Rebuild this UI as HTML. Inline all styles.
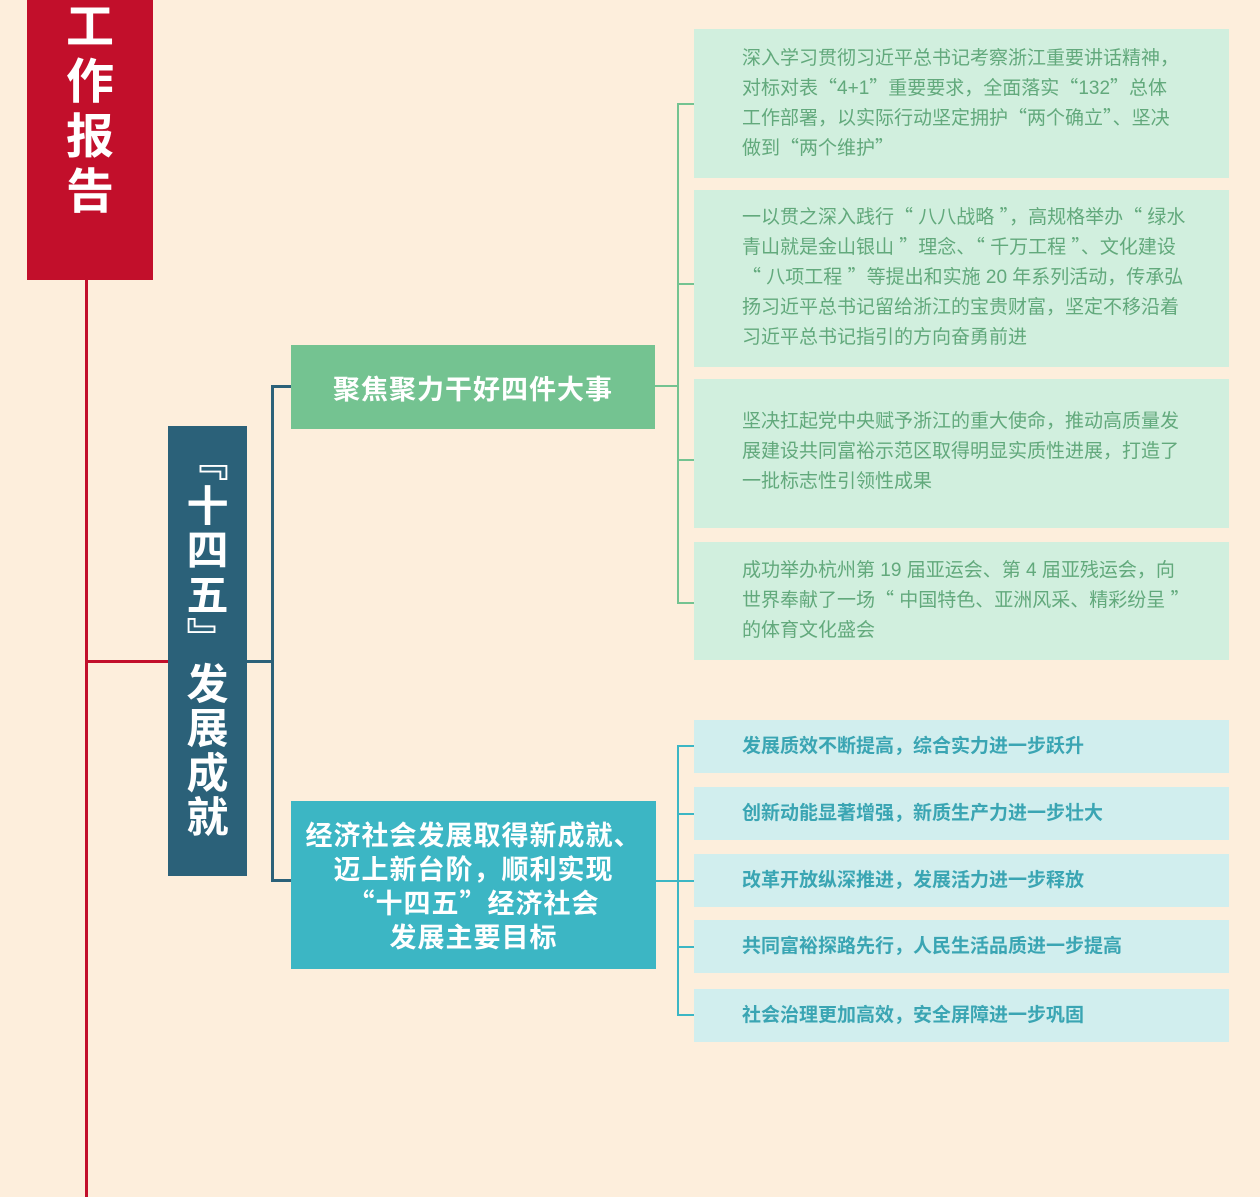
<!DOCTYPE html>
<html><head><meta charset="utf-8"><style>
*{margin:0;padding:0;box-sizing:border-box}
body{width:1260px;height:1197px;background:#fdeedc;position:relative;overflow:hidden;font-family:"Liberation Sans","Noto Sans CJK SC",sans-serif}
.a{position:absolute}
.q{font-family:"Noto Sans CJK SC",sans-serif;line-height:1}
.red{left:27px;top:0;width:126px;height:280px;background:#c20f2b;color:#fff;font-weight:bold;font-size:48px;line-height:55px;text-align:center;padding-top:0}
.blue{left:168px;top:426px;width:79px;height:450px;background:#2b6179;color:#fff;font-weight:bold;font-size:42px;font-family:"Noto Sans CJK SC",sans-serif;padding-top:11px}
.blue div{height:44.5px;line-height:44.5px;text-align:center}
.g{left:291px;top:345px;width:364px;height:84px;background:#74c391;color:#fff;font-weight:bold;font-size:27px;letter-spacing:1px;display:flex;align-items:center;justify-content:center}
.t{left:291px;top:801px;width:365px;height:168px;background:#3cb6c4;color:#fff;font-weight:bold;font-size:27px;letter-spacing:1px;line-height:34px;text-align:center;padding-top:18px}
.gb{left:694px;width:535px;background:#d1efde;color:#62a97c;font-size:19px;line-height:30px;padding-left:48px;white-space:nowrap}
.tb{left:694px;width:535px;height:53px;background:#d1eeee;color:#3aa5b3;font-weight:bold;font-size:19px;line-height:53px;padding-left:48px}
.l{position:absolute}
</style></head><body>
<div class="a red">工<br>作<br>报<br>告</div>
<div class="l" style="left:85px;top:280px;width:3px;height:917px;background:#c20f2b"></div>
<div class="l" style="left:85px;top:660px;width:83px;height:3px;background:#c20f2b"></div>
<div class="a blue"><div>﹃</div><div>十</div><div>四</div><div>五</div><div>﹄</div><div>发</div><div>展</div><div>成</div><div>就</div></div>
<div class="l" style="left:247px;top:660px;width:26px;height:3px;background:#2b6179"></div>
<div class="l" style="left:271px;top:385px;width:3px;height:497px;background:#2b6179"></div>
<div class="l" style="left:271px;top:385px;width:20px;height:3px;background:#2b6179"></div>
<div class="l" style="left:271px;top:879px;width:20px;height:3px;background:#2b6179"></div>
<div class="a g">聚焦聚力干好四件大事</div>
<div class="a t">经济社会发展取得新成就、<br>迈上新台阶，顺利实现<br><span class="q">“</span>十四五<span class="q">”</span>经济社会<br>发展主要目标</div>
<div class="l" style="left:655px;top:385px;width:24px;height:2px;background:#74c391"></div>
<div class="l" style="left:677px;top:104px;width:2px;height:500px;background:#74c391"></div>
<div class="l" style="left:677px;top:103px;width:17px;height:2px;background:#74c391"></div>
<div class="l" style="left:677px;top:283px;width:17px;height:2px;background:#74c391"></div>
<div class="l" style="left:677px;top:459px;width:17px;height:2px;background:#74c391"></div>
<div class="l" style="left:677px;top:602px;width:17px;height:2px;background:#74c391"></div>
<div class="a gb" style="top:29px;height:149px;padding-top:15px">深入学习贯彻习近平总书记考察浙江重要讲话精神，<br>对标对表<span class="q">“</span>4+1<span class="q">”</span>重要要求，全面落实<span class="q">“</span>132<span class="q">”</span>总体<br>工作部署，以实际行动坚定拥护<span class="q">“</span>两个确立<span class="q">”</span>、坚决<br>做到<span class="q">“</span>两个维护<span class="q">”</span></div>
<div class="a gb" style="top:190px;height:177px;padding-top:13px">一以贯之深入践行<span class="q">“</span> 八八战略 <span class="q">”</span>，高规格举办<span class="q">“</span> 绿水<br>青山就是金山银山 <span class="q">”</span>理念、<span class="q">“</span> 千万工程 <span class="q">”</span>、文化建设<br><span class="q">“</span> 八项工程 <span class="q">”</span>等提出和实施 20 年系列活动，传承弘<br>扬习近平总书记留给浙江的宝贵财富，坚定不移沿着<br>习近平总书记指引的方向奋勇前进</div>
<div class="a gb" style="top:379px;height:149px;padding-top:28px">坚决扛起党中央赋予浙江的重大使命，推动高质量发<br>展建设共同富裕示范区取得明显实质性进展，打造了<br>一批标志性引领性成果</div>
<div class="a gb" style="top:542px;height:118px;padding-top:14px">成功举办杭州第 19 届亚运会、第 4 届亚残运会，向<br>世界奉献了一场<span class="q">“</span> 中国特色、亚洲风采、精彩纷呈 <span class="q">”</span><br>的体育文化盛会</div>
<div class="l" style="left:656px;top:880px;width:23px;height:2px;background:#3cb6c4"></div>
<div class="l" style="left:677px;top:746px;width:2px;height:270px;background:#3cb6c4"></div>
<div class="l" style="left:677px;top:745px;width:17px;height:2px;background:#3cb6c4"></div>
<div class="l" style="left:677px;top:813px;width:17px;height:2px;background:#3cb6c4"></div>
<div class="l" style="left:677px;top:880px;width:17px;height:2px;background:#3cb6c4"></div>
<div class="l" style="left:677px;top:946px;width:17px;height:2px;background:#3cb6c4"></div>
<div class="l" style="left:677px;top:1014px;width:17px;height:2px;background:#3cb6c4"></div>
<div class="a tb" style="top:720px">发展质效不断提高，综合实力进一步跃升</div>
<div class="a tb" style="top:787px">创新动能显著增强，新质生产力进一步壮大</div>
<div class="a tb" style="top:854px">改革开放纵深推进，发展活力进一步释放</div>
<div class="a tb" style="top:920px">共同富裕探路先行，人民生活品质进一步提高</div>
<div class="a tb" style="top:989px">社会治理更加高效，安全屏障进一步巩固</div>
</body></html>
